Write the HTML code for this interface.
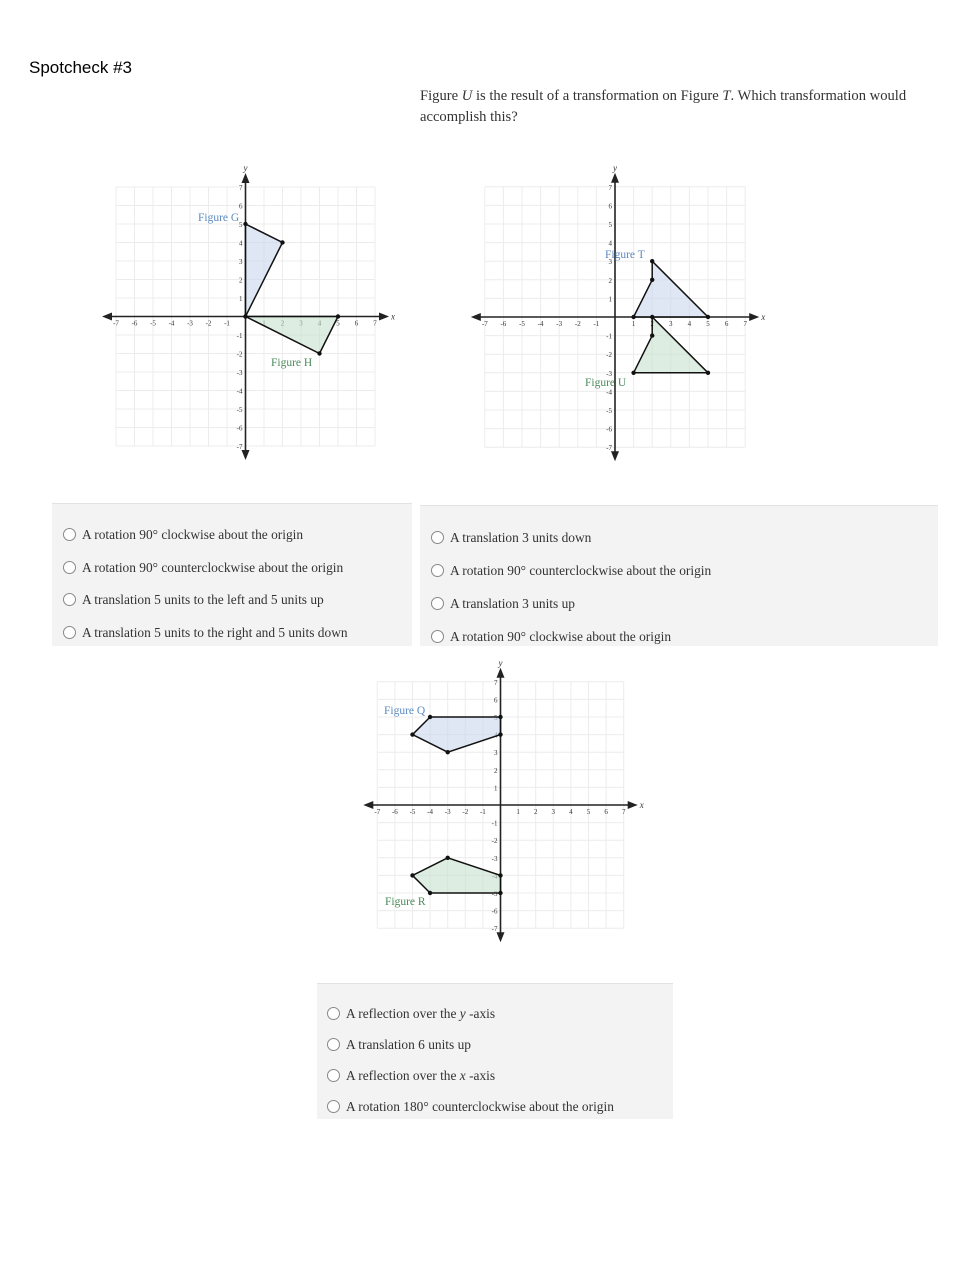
<!DOCTYPE html>
<html><head><meta charset="utf-8"><style>
body{margin:0;width:979px;height:1266px;background:#fff;position:relative;font-family:"Liberation Serif",serif;color:#333}
.abs{position:absolute}
.panel{position:absolute;background:#f3f3f4;border-top:1px solid #e2e2e2}
.opt{position:absolute;font-size:13.4px;color:#333;white-space:nowrap}
.opt:before{content:"";display:inline-block;width:11px;height:11px;border:1px solid #888;border-radius:50%;background:#fff;vertical-align:-2px;margin-right:6px}
svg{position:absolute;left:0;top:0}
</style></head><body>
<div class="abs" style="left:29px;top:58px;font-family:'Liberation Sans',sans-serif;font-size:17px;color:#000">Spotcheck #3</div>
<div class="abs" style="left:420px;top:86px;width:530px;font-size:14.6px;line-height:21px;color:#333">Figure <i>U</i> is the result of a transformation on Figure <i>T</i>. Which transformation would accomplish this?</div>

<div class="panel" style="left:52px;top:503px;width:360px;height:142px"></div>
<div class="panel" style="left:420px;top:505px;width:518px;height:140px"></div>
<div class="panel" style="left:317px;top:983px;width:356px;height:135px"></div>

<div class="opt" style="left:63px;top:527px">A rotation 90° clockwise about the origin</div>
<div class="opt" style="left:63px;top:560px">A rotation 90° counterclockwise about the origin</div>
<div class="opt" style="left:63px;top:592px">A translation 5 units to the left and 5 units up</div>
<div class="opt" style="left:63px;top:625px">A translation 5 units to the right and 5 units down</div>

<div class="opt" style="left:431px;top:530px">A translation 3 units down</div>
<div class="opt" style="left:431px;top:563px">A rotation 90° counterclockwise about the origin</div>
<div class="opt" style="left:431px;top:596px">A translation 3 units up</div>
<div class="opt" style="left:431px;top:629px">A rotation 90° clockwise about the origin</div>

<div class="opt" style="left:327px;top:1006px">A reflection over the <i>y</i> -axis</div>
<div class="opt" style="left:327px;top:1037px">A translation 6 units up</div>
<div class="opt" style="left:327px;top:1068px">A reflection over the <i>x</i> -axis</div>
<div class="opt" style="left:327px;top:1099px">A rotation 180° counterclockwise about the origin</div>

<svg id="s" width="979" height="1266" xmlns="http://www.w3.org/2000/svg"></svg>
<script>
var s=document.getElementById('s'),h='';
function chart(ox,oy,u,shapes,labels){
 var L=ox-7*u,R=ox+7*u,T=oy-7*u,B=oy+7*u;
 for(var i=-7;i<=7;i++){
  h+='<line x1="'+(ox+i*u)+'" y1="'+T+'" x2="'+(ox+i*u)+'" y2="'+B+'" stroke="#ececec" stroke-width="1"/>';
  h+='<line x1="'+L+'" y1="'+(oy+i*u)+'" x2="'+R+'" y2="'+(oy+i*u)+'" stroke="#ececec" stroke-width="1"/>';
 }
 h+='<line x1="'+(L-10)+'" y1="'+oy+'" x2="'+(R+10)+'" y2="'+oy+'" stroke="#222" stroke-width="1.6"/>';
 h+='<line x1="'+ox+'" y1="'+(T-10)+'" x2="'+ox+'" y2="'+(B+10)+'" stroke="#222" stroke-width="1.6"/>';
 h+='<polygon points="'+(L-14)+','+oy+' '+(L-4)+','+(oy-4)+' '+(L-4)+','+(oy+4)+'" fill="#222"/>';
 h+='<polygon points="'+(R+14)+','+oy+' '+(R+4)+','+(oy-4)+' '+(R+4)+','+(oy+4)+'" fill="#222"/>';
 h+='<polygon points="'+ox+','+(T-14)+' '+(ox-4)+','+(T-4)+' '+(ox+4)+','+(T-4)+'" fill="#222"/>';
 h+='<polygon points="'+ox+','+(B+14)+' '+(ox-4)+','+(B+4)+' '+(ox+4)+','+(B+4)+'" fill="#222"/>';
 h+='<text x="'+(R+16)+'" y="'+(oy+3)+'" font-size="9" font-style="italic" fill="#333">x</text>';
 h+='<text x="'+(ox-2)+'" y="'+(T-16)+'" font-size="9" font-style="italic" fill="#333">y</text>';
 for(var i=-7;i<=7;i++){if(!i)continue;
  h+='<text x="'+(ox+i*u)+'" y="'+(oy+9)+'" font-size="7" text-anchor="middle" fill="#333">'+i+'</text>';
  h+='<text x="'+(ox-3)+'" y="'+(oy-i*u+3)+'" font-size="7" text-anchor="end" fill="#333">'+i+'</text>';
 }
 shapes.forEach(function(sh){
  var p=sh[0].map(function(q){return (ox+q[0]*u)+','+(oy-q[1]*u)}).join(' ');
  h+='<polygon points="'+p+'" fill="'+sh[1]+'" stroke="#111" stroke-width="1.5"/>';
  sh[0].forEach(function(q){h+='<circle cx="'+(ox+q[0]*u)+'" cy="'+(oy-q[1]*u)+'" r="2.2" fill="#111"/>'});
 });
 labels.forEach(function(l){h+='<text x="'+l[0]+'" y="'+l[1]+'" font-size="11.5" fill="'+l[3]+'" font-family="Liberation Serif,serif">'+l[2]+'</text>'});
}
var B='rgba(200,215,235,0.6)',G='rgba(200,225,205,0.6)';
chart(245.5,316.5,18.5,[[[[0,5],[2,4],[0,0]],B],[[[0,0],[5,0],[4,-2]],G]],[[198,221,'Figure G','#5a8ac0'],[271,366,'Figure H','#4a8a5a']]);
chart(615,317,18.6,[[[[1,0],[2,2],[2,3],[5,0]],B],[[[1,-3],[2,-1],[2,0],[5,-3]],G]],[[605,258,'Figure T','#5a8ac0'],[585,386,'Figure U','#4a8a5a']]);
chart(500.5,805,17.6,[[[[-4,5],[0,5],[0,4],[-3,3],[-5,4]],B],[[[-4,-5],[0,-5],[0,-4],[-3,-3],[-5,-4]],G]],[[384,714,'Figure Q','#5a8ac0'],[385,905,'Figure R','#4a8a5a']]);
s.innerHTML=h;
</script>
</body></html>
